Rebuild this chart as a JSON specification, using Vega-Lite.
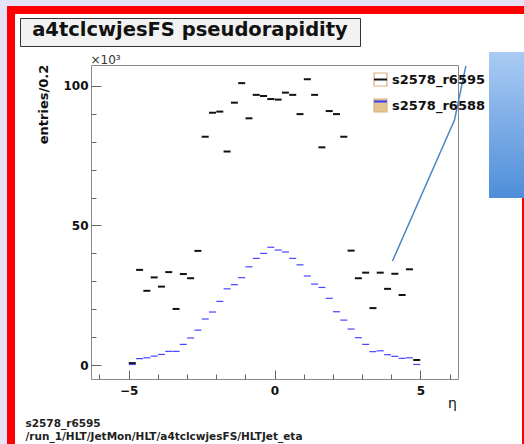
{
  "$schema": "https://vega.github.io/schema/vega-lite/v6.json",
  "width": 367,
  "height": 314,
  "autosize": {"type": "none"},
  "padding": {"left": 91, "top": 65, "right": 66, "bottom": 65},
  "background": "white",
  "config": {
    "view": {"stroke": "#8a8a8a", "strokeWidth": 1},
    "font": "DejaVu Sans",
    "axis": {"grid": false, "domain": false, "labelFont": "DejaVu Sans", "labelFontWeight": "bold", "labelFontSize": 12, "labelColor": "#111111", "tickColor": "#666666", "tickWidth": 1, "labelOverlap": false}
  },
  "datasets": {
    "bins": [
      {"eta": -4.875, "v": 0.7, "series": "s2578_r6595"},
      {"eta": -4.625, "v": 34.1, "series": "s2578_r6595"},
      {"eta": -4.375, "v": 26.6, "series": "s2578_r6595"},
      {"eta": -4.125, "v": 31.4, "series": "s2578_r6595"},
      {"eta": -3.875, "v": 28.1, "series": "s2578_r6595"},
      {"eta": -3.625, "v": 33.3, "series": "s2578_r6595"},
      {"eta": -3.375, "v": 20.1, "series": "s2578_r6595"},
      {"eta": -3.125, "v": 32.6, "series": "s2578_r6595"},
      {"eta": -2.875, "v": 31.1, "series": "s2578_r6595"},
      {"eta": -2.625, "v": 40.9, "series": "s2578_r6595"},
      {"eta": -2.375, "v": 81.8, "series": "s2578_r6595"},
      {"eta": -2.125, "v": 90.4, "series": "s2578_r6595"},
      {"eta": -1.875, "v": 90.8, "series": "s2578_r6595"},
      {"eta": -1.625, "v": 76.5, "series": "s2578_r6595"},
      {"eta": -1.375, "v": 94.0, "series": "s2578_r6595"},
      {"eta": -1.125, "v": 101.0, "series": "s2578_r6595"},
      {"eta": -0.875, "v": 88.4, "series": "s2578_r6595"},
      {"eta": -0.625, "v": 96.8, "series": "s2578_r6595"},
      {"eta": -0.375, "v": 96.4, "series": "s2578_r6595"},
      {"eta": -0.125, "v": 95.3, "series": "s2578_r6595"},
      {"eta": 0.125, "v": 95.1, "series": "s2578_r6595"},
      {"eta": 0.375, "v": 97.6, "series": "s2578_r6595"},
      {"eta": 0.625, "v": 96.8, "series": "s2578_r6595"},
      {"eta": 0.875, "v": 89.9, "series": "s2578_r6595"},
      {"eta": 1.125, "v": 102.4, "series": "s2578_r6595"},
      {"eta": 1.375, "v": 96.8, "series": "s2578_r6595"},
      {"eta": 1.625, "v": 78.0, "series": "s2578_r6595"},
      {"eta": 1.875, "v": 91.0, "series": "s2578_r6595"},
      {"eta": 2.125, "v": 89.9, "series": "s2578_r6595"},
      {"eta": 2.375, "v": 81.8, "series": "s2578_r6595"},
      {"eta": 2.625, "v": 41.0, "series": "s2578_r6595"},
      {"eta": 2.875, "v": 31.1, "series": "s2578_r6595"},
      {"eta": 3.125, "v": 33.1, "series": "s2578_r6595"},
      {"eta": 3.375, "v": 20.4, "series": "s2578_r6595"},
      {"eta": 3.625, "v": 33.1, "series": "s2578_r6595"},
      {"eta": 3.875, "v": 27.3, "series": "s2578_r6595"},
      {"eta": 4.125, "v": 32.7, "series": "s2578_r6595"},
      {"eta": 4.375, "v": 25.1, "series": "s2578_r6595"},
      {"eta": 4.625, "v": 34.3, "series": "s2578_r6595"},
      {"eta": 4.875, "v": 1.8, "series": "s2578_r6595"},
      {"eta": -4.875, "v": 0.2, "series": "s2578_r6588"},
      {"eta": -4.625, "v": 2.3, "series": "s2578_r6588"},
      {"eta": -4.375, "v": 2.6, "series": "s2578_r6588"},
      {"eta": -4.125, "v": 3.2, "series": "s2578_r6588"},
      {"eta": -3.875, "v": 3.8, "series": "s2578_r6588"},
      {"eta": -3.625, "v": 4.9, "series": "s2578_r6588"},
      {"eta": -3.375, "v": 4.9, "series": "s2578_r6588"},
      {"eta": -3.125, "v": 7.4, "series": "s2578_r6588"},
      {"eta": -2.875, "v": 9.7, "series": "s2578_r6588"},
      {"eta": -2.625, "v": 12.5, "series": "s2578_r6588"},
      {"eta": -2.375, "v": 16.5, "series": "s2578_r6588"},
      {"eta": -2.125, "v": 19.0, "series": "s2578_r6588"},
      {"eta": -1.875, "v": 22.8, "series": "s2578_r6588"},
      {"eta": -1.625, "v": 27.3, "series": "s2578_r6588"},
      {"eta": -1.375, "v": 28.8, "series": "s2578_r6588"},
      {"eta": -1.125, "v": 31.3, "series": "s2578_r6588"},
      {"eta": -0.875, "v": 35.2, "series": "s2578_r6588"},
      {"eta": -0.625, "v": 38.2, "series": "s2578_r6588"},
      {"eta": -0.375, "v": 40.0, "series": "s2578_r6588"},
      {"eta": -0.125, "v": 42.2, "series": "s2578_r6588"},
      {"eta": 0.125, "v": 41.2, "series": "s2578_r6588"},
      {"eta": 0.375, "v": 40.5, "series": "s2578_r6588"},
      {"eta": 0.625, "v": 38.2, "series": "s2578_r6588"},
      {"eta": 0.875, "v": 35.9, "series": "s2578_r6588"},
      {"eta": 1.125, "v": 31.9, "series": "s2578_r6588"},
      {"eta": 1.375, "v": 29.0, "series": "s2578_r6588"},
      {"eta": 1.625, "v": 27.8, "series": "s2578_r6588"},
      {"eta": 1.875, "v": 23.9, "series": "s2578_r6588"},
      {"eta": 2.125, "v": 19.1, "series": "s2578_r6588"},
      {"eta": 2.375, "v": 16.1, "series": "s2578_r6588"},
      {"eta": 2.625, "v": 12.9, "series": "s2578_r6588"},
      {"eta": 2.875, "v": 9.8, "series": "s2578_r6588"},
      {"eta": 3.125, "v": 7.4, "series": "s2578_r6588"},
      {"eta": 3.375, "v": 4.8, "series": "s2578_r6588"},
      {"eta": 3.625, "v": 5.1, "series": "s2578_r6588"},
      {"eta": 3.875, "v": 3.7, "series": "s2578_r6588"},
      {"eta": 4.125, "v": 3.1, "series": "s2578_r6588"},
      {"eta": 4.375, "v": 2.4, "series": "s2578_r6588"},
      {"eta": 4.625, "v": 2.6, "series": "s2578_r6588"},
      {"eta": 4.875, "v": 0.2, "series": "s2578_r6588"}
    ],
    "pointer": [
      {"eta": 4.045, "v": 37.3},
      {"eta": 6.17, "v": 87.8},
      {"eta": 6.56, "v": 107.2}
    ]
  },
  "layer": [
    {
      "data": {"name": "bins"},
      "transform": [{"filter": "datum.series === 's2578_r6595'"}],
      "mark": {"type": "tick", "orient": "horizontal", "thickness": 2, "size": 7, "opacity": 1},
      "encoding": {
        "x": {
          "field": "eta", "type": "quantitative",
          "scale": {"domain": [-6.29, 6.29], "nice": false, "zero": false},
          "axis": {
            "values": [-6, -5, -4, -3, -2, -1, 0, 1, 2, 3, 4, 5, 6],
            "labelExpr": "datum.value % 5 === 0 ? datum.label : ''",
            "tickSize": {"condition": {"test": "datum.value % 5 === 0", "value": -9}, "value": -5},
            "labelPadding": 15,
            "title": "η", "titleX": 361, "titleY": 17, "titleFont": "DejaVu Sans", "titleFontWeight": "normal", "titleFontSize": 14, "titleColor": "#111111"
          }
        },
        "y": {
          "field": "v", "type": "quantitative",
          "scale": {"domain": [-5, 107.5], "nice": false, "zero": false},
          "axis": {
            "values": [0, 10, 20, 30, 40, 50, 60, 70, 80, 90, 100],
            "labelExpr": "datum.value % 50 === 0 ? datum.label : ''",
            "tickSize": {"condition": {"test": "datum.value % 50 === 0", "value": -10}, "value": -5},
            "labelPadding": 13,
            "title": "entries/0.2", "titleX": -48, "titleY": 39, "titleAngle": 270, "titleAlign": "center", "titleBaseline": "middle",
            "titleFont": "DejaVu Sans", "titleFontWeight": "bold", "titleFontSize": 13, "titleColor": "#111111"
          }
        },
        "color": {
          "field": "series", "type": "nominal",
          "scale": {"domain": ["s2578_r6595", "s2578_r6588"], "range": ["#111111", "#4646ff"]},
          "legend": null
        }
      }
    },
    {
      "data": {"name": "bins"},
      "transform": [{"filter": "datum.series === 's2578_r6588'"}],
      "mark": {"type": "tick", "orient": "horizontal", "thickness": 1.2, "size": 7, "opacity": 1},
      "encoding": {
        "x": {"field": "eta", "type": "quantitative", "axis": null},
        "y": {"field": "v", "type": "quantitative", "axis": null},
        "color": {"field": "series", "type": "nominal", "legend": null}
      }
    },
    {
      "data": {"name": "bins"},
      "mark": {"type": "point", "opacity": 0, "filled": true},
      "encoding": {
        "fill": {
          "field": "series", "type": "nominal",
          "scale": {"domain": ["s2578_r6595", "s2578_r6588"], "range": ["#ffffff", "#e4c393"]},
          "legend": {
            "orient": "none", "legendX": 282, "legendY": 7, "title": null, "zindex": 1,
            "symbolType": "square", "symbolSize": 169, "symbolOpacity": 1,
            "symbolStrokeColor": "#d8b27c", "symbolStrokeWidth": 1.2,
            "labelFont": "DejaVu Sans", "labelFontWeight": "bold", "labelFontSize": 13, "labelColor": "#111111",
            "rowPadding": 7, "padding": 0, "labelOffset": 4,
            "encode": {"symbols": {"update": {"stroke": {"value": "#d8b27c"}, "strokeWidth": {"value": 1.2}}}}
          }
        }
      }
    },
    {
      "data": {"name": "bins"},
      "mark": {"type": "point", "opacity": 0},
      "encoding": {
        "stroke": {
          "field": "series", "type": "nominal", "sort": "descending",
          "scale": {"range": ["#111111", "#3a3aff"]},
          "legend": {
            "orient": "none", "legendX": 282, "legendY": 7, "title": null, "zindex": 2,
            "symbolType": "stroke", "symbolSize": 169, "symbolStrokeWidth": 2, "symbolOpacity": 1,
            "labelFont": "DejaVu Sans", "labelFontWeight": "bold", "labelFontSize": 13, "labelOpacity": 0,
            "rowPadding": 7, "padding": 0, "labelOffset": 4
          }
        }
      }
    },
    {
      "data": {"name": "pointer"},
      "mark": {"type": "line", "color": "#4a86c8", "strokeWidth": 1.5, "clip": false},
      "encoding": {
        "x": {
          "field": "eta", "type": "quantitative",
          "axis": {
            "title": ["s2578_r6595", "/run_1/HLT/JetMon/HLT/a4tclcwjesFS/HLTJet_eta"],
            "labels": false, "ticks": false, "domain": false, "orient": "bottom",
            "titleX": -66, "titleY": 47.5, "titleAlign": "left", "titleAnchor": "start", "titleBaseline": "alphabetic",
            "titleFont": "DejaVu Sans", "titleFontWeight": "bold", "titleFontSize": 10.5, "titleLineHeight": 12.5, "titleColor": "#222222"
          }
        },
        "y": {
          "field": "v", "type": "quantitative",
          "axis": {
            "title": "×10³", "labels": false, "ticks": false, "domain": false, "orient": "left",
            "titleAngle": 0, "titleX": -1, "titleY": -2, "titleAlign": "left", "titleBaseline": "alphabetic",
            "titleFont": "DejaVu Sans", "titleFontWeight": "normal", "titleFontSize": 12, "titleColor": "#333333"
          }
        }
      }
    },
    {
      "data": {"values": [{"k": "t"}]},
      "mark": {"type": "point", "opacity": 0},
      "encoding": {
        "shape": {
          "field": "k", "type": "nominal",
          "legend": {
            "orient": "none", "legendX": -71, "legendY": -47, "zindex": 1,
            "title": "a4tclcwjesFS pseudorapidity", "titleAnchor": "middle",
            "titleFont": "DejaVu Sans", "titleFontWeight": "bold", "titleFontSize": 19.5, "titleColor": "#111111",
            "titleLimit": 600, "titlePadding": 0, "padding": 3,
            "fillColor": "#f2f2f2", "strokeColor": "#333333",
            "symbolSize": 0, "symbolOpacity": 0, "labelOpacity": 0, "labelFontSize": 2, "labelOffset": 0, "labelLimit": 1000,
            "labelExpr": "pad('', 192, 'M')"
          }
        }
      }
    },
    {
      "data": {"values": [{"b1": 0}, {"b1": 1}]},
      "mark": {"type": "point", "opacity": 0},
      "encoding": {
        "fill": {
          "field": "b1", "type": "quantitative",
          "scale": {"range": ["#e4e4f6", "#e4e4f6"]},
          "legend": {
            "orient": "none", "legendX": -91, "legendY": -65, "direction": "vertical", "zindex": 0,
            "gradientLength": 444, "gradientThickness": 7, "gradientStrokeWidth": 0,
            "labelOpacity": 0, "title": null, "padding": 0, "tickCount": 2
          }
        }
      }
    },
    {
      "data": {"values": [{"b2": 0}, {"b2": 1}]},
      "mark": {"type": "point", "opacity": 0},
      "encoding": {
        "fill": {
          "field": "b2", "type": "quantitative",
          "scale": {"range": ["#e4e4f6", "#e4e4f6"]},
          "legend": {
            "orient": "none", "legendX": -91, "legendY": -65, "direction": "horizontal", "zindex": 0,
            "gradientLength": 524, "gradientThickness": 6, "gradientStrokeWidth": 0,
            "labelOpacity": 0, "title": null, "padding": 0, "tickCount": 2
          }
        }
      }
    },
    {
      "data": {"values": [{"b3": 0}, {"b3": 1}]},
      "mark": {"type": "point", "opacity": 0},
      "encoding": {
        "fill": {
          "field": "b3", "type": "quantitative",
          "scale": {"range": ["#ff0000", "#ff0000"]},
          "legend": {
            "orient": "none", "legendX": -84, "legendY": -59, "direction": "vertical", "zindex": 1,
            "gradientLength": 440, "gradientThickness": 8, "gradientStrokeWidth": 0,
            "labelOpacity": 0, "title": null, "padding": 0, "tickCount": 2
          }
        }
      }
    },
    {
      "data": {"values": [{"b4": 0}, {"b4": 1}]},
      "mark": {"type": "point", "opacity": 0},
      "encoding": {
        "fill": {
          "field": "b4", "type": "quantitative",
          "scale": {"range": ["#ff0000", "#ff0000"]},
          "legend": {
            "orient": "none", "legendX": -84, "legendY": -59, "direction": "horizontal", "zindex": 1,
            "gradientLength": 517, "gradientThickness": 8, "gradientStrokeWidth": 0,
            "labelOpacity": 0, "title": null, "padding": 0, "tickCount": 2
          }
        }
      }
    },
    {
      "data": {"values": [{"b5": 0}, {"b5": 1}]},
      "mark": {"type": "point", "opacity": 0},
      "encoding": {
        "fill": {
          "field": "b5", "type": "quantitative",
          "scale": {"range": ["#ff0000", "#ff0000"]},
          "legend": {
            "orient": "none", "legendX": 431, "legendY": 133, "direction": "vertical", "zindex": 1,
            "gradientLength": 250, "gradientThickness": 3, "gradientStrokeWidth": 0,
            "labelOpacity": 0, "title": null, "padding": 0, "tickCount": 2
          }
        }
      }
    },
    {
      "data": {"values": [{"g": 0}, {"g": 1}]},
      "mark": {"type": "point", "opacity": 0},
      "encoding": {
        "fill": {
          "field": "g", "type": "quantitative",
          "scale": {"range": ["#4d8ed9", "#a9cbf3"]},
          "legend": {
            "orient": "none", "legendX": 398, "legendY": -13, "direction": "vertical", "zindex": 3,
            "gradientLength": 146, "gradientThickness": 40, "gradientStrokeWidth": 0,
            "labelOpacity": 0, "title": null, "padding": 0, "tickCount": 2
          }
        }
      }
    }
  ],
  "resolve": {
    "axis": {"x": "independent", "y": "independent"},
    "scale": {"shape": "independent", "fill": "independent"},
    "legend": {"shape": "independent", "fill": "independent"}
  }
}
